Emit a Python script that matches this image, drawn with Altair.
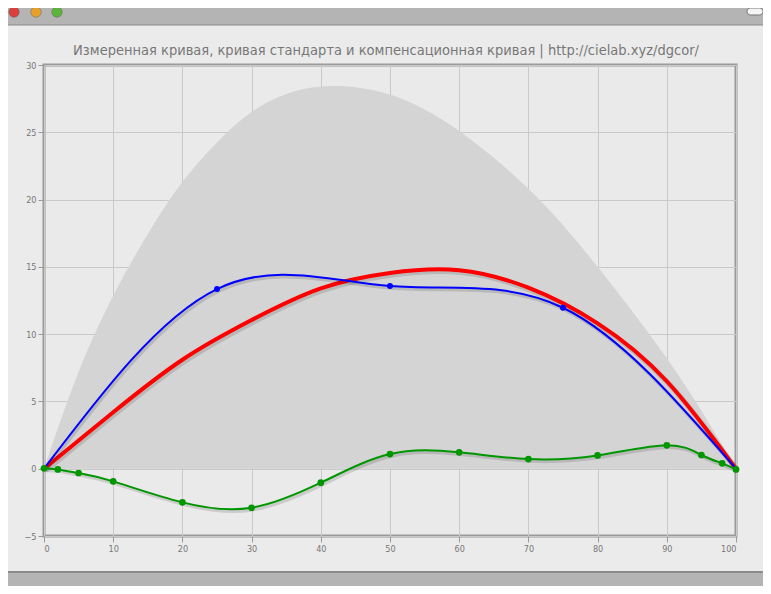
import altair as alt
import pandas as pd

TITLE = "Измеренная кривая, кривая стандарта и компенсационная кривая | http://cielab.xyz/dgcor/"

# standard curve (grey band, from 0 up to this curve)
std_x = [0, 5, 10, 15, 20, 25, 30, 35, 40, 45, 50, 55, 60, 65, 70, 75, 80, 85, 90, 95, 100]
std_y = [0, 7.2, 12.85, 17.45, 21.3, 24.25, 26.5, 27.85, 28.4, 28.35, 27.8, 26.7, 25.1, 23.1, 20.8, 18.1, 15.0, 11.7, 8.2, 4.3, 0]

# compensation curve (red)
red_x = [0, 10, 20, 30, 40, 50, 60, 70, 80, 90, 100]
red_y = [0, 4.2, 8.1, 11.05, 13.4, 14.55, 14.75, 13.45, 10.8, 6.5, 0]

# measured curve (blue)
blue_x = [0, 25, 50, 75, 100]
blue_y = [0, 13.35, 13.57, 11.96, 0]

# green curve
green_x = [0, 2, 5, 10, 20, 30, 40, 50, 60, 70, 80, 90, 95, 98, 100]
green_y = [0.03, -0.05, -0.32, -0.94, -2.5, -2.9, -1.04, 1.09, 1.22, 0.72, 0.99, 1.74, 1.02, 0.4, -0.05]

x_ticks = list(range(0, 101, 10))
y_ticks = list(range(-5, 31, 5))

FONT = "DejaVu Sans Condensed, Liberation Sans Narrow, DejaVu Sans, sans-serif"

std_df = pd.DataFrame({"x": std_x, "y": std_y})
red_df = pd.DataFrame({"x": red_x, "y": red_y})
blue_df = pd.DataFrame({"x": blue_x, "y": blue_y})
green_df = pd.DataFrame({"x": green_x, "y": green_y})
one = pd.DataFrame({"t": [TITLE]})

xs = alt.Scale(domain=[0, 100], nice=False, zero=False)
ys = alt.Scale(domain=[-5, 30], nice=False, zero=False)
X = alt.X("x:Q", scale=xs, axis=alt.Axis(values=x_ticks, title=None))
Y = alt.Y("y:Q", scale=ys, axis=alt.Axis(values=y_ticks, title=None))

# window chrome (decoration)
top_bar = alt.Chart(one).mark_rect(color="#b4b4b4").encode(
    x=alt.value(-36), x2=alt.value(719), y=alt.value(-57), y2=alt.value(-40))
top_line = alt.Chart(one).mark_rule(color="#8a8a8a", strokeWidth=1).encode(
    x=alt.value(-36), x2=alt.value(719), y=alt.value(-40))
bot_bar = alt.Chart(one).mark_rect(color="#b4b4b4").encode(
    x=alt.value(-36), x2=alt.value(719), y=alt.value(507), y2=alt.value(529))
bot_line = alt.Chart(one).mark_rule(color="#8a8a8a", strokeWidth=2).encode(
    x=alt.value(-36), x2=alt.value(719), y=alt.value(507))
lights = [
    alt.Chart(one).mark_point(filled=True, opacity=1, size=110, color=c, stroke="#666", strokeWidth=0.5).encode(
        x=alt.value(px), y=alt.value(-53))
    for c, px in [("#d9413a", -30), ("#e6a12a", -8), ("#5db43a", 13)]
]
pill = alt.Chart(one).mark_rect(color="#f4f4f4", stroke="#777", strokeWidth=1, cornerRadius=4).encode(
    x=alt.value(703), x2=alt.value(719), y=alt.value(-57), y2=alt.value(-50))

title = alt.Chart(one).mark_text(font=FONT, fontSize=14.5, color="#777777", align="center",
                                 baseline="alphabetic").encode(
    x=alt.value(342), y=alt.value(-10), text="t:N")

area = alt.Chart(std_df).mark_area(color="#d4d4d4", interpolate="natural", opacity=1).encode(x=X, y=Y)


def shadow(df, w):
    return alt.Chart(df).mark_line(color="#000000", opacity=0.13, strokeWidth=w + 1.5,
                                   interpolate="natural", xOffset=1.5, yOffset=2).encode(x=X, y=Y)


red = alt.Chart(red_df).mark_line(color="#ff0000", strokeWidth=4, interpolate="natural").encode(x=X, y=Y)
blue = alt.Chart(blue_df).mark_line(color="#0000ff", strokeWidth=2, interpolate="natural").encode(x=X, y=Y)
blue_pts = alt.Chart(blue_df[(blue_df.x > 0) & (blue_df.x < 100)]).mark_circle(
    color="#0000ff", size=36, opacity=1).encode(x=X, y=Y)
green = alt.Chart(green_df).mark_line(color="#009600", strokeWidth=2, interpolate="natural").encode(x=X, y=Y)
green_pts = alt.Chart(green_df).mark_circle(color="#009600", size=45, opacity=1).encode(x=X, y=Y)

chart = alt.layer(
    top_bar, top_line, bot_bar, bot_line, *lights, pill, title,
    area,
    shadow(red_df, 4), red,
    shadow(blue_df, 2), blue, blue_pts,
    shadow(green_df, 2), green, green_pts,
).properties(
    width=692, height=471,
    padding={"left": 36, "top": 57, "right": 27, "bottom": 50},
    autosize=alt.AutoSizeParams(type="none"),
    background="#ebebeb",
).configure_view(
    stroke="#9a9a9a", strokeWidth=3, fill="#eaeaea"
).configure_axis(
    domain=False, grid=True, gridColor="#c9c9c9", gridWidth=1,
    tickColor="#9a9a9a", tickSize=6, tickWidth=1,
    labelFont=FONT, labelFontSize=9, labelColor="#777777", labelPadding=2,
)

chart.save("out.html", embed_options={"renderer": "svg", "actions": False})
